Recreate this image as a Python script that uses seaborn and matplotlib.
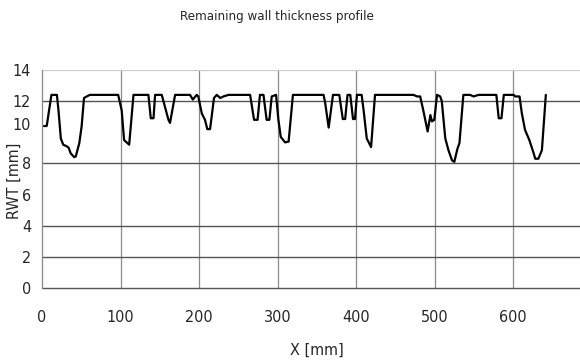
import matplotlib
matplotlib.use("Agg")
import matplotlib.pyplot as plt
import matplotlib.transforms as mtransforms
from matplotlib import font_manager
import seaborn as sns
import pandas as pd

# profile (X in mm, remaining wall thickness in mm)
x_mm = [2.5, 6, 12, 19, 21, 24, 27, 31.5, 34, 36.5, 41, 43, 47.5, 50.5, 53.5, 57, 61,
        97, 101.5, 104.5, 111, 116.5, 135.5, 138.5, 142, 144, 152.5, 161, 163, 169.5,
        188.5, 192, 197, 199, 203.5, 207.5, 210.5, 214, 219, 222.5, 227, 231, 237.5,
        265, 270, 274.5, 277.5, 282, 286, 289.5, 292.5, 298, 301, 304, 309.5, 314, 319.5,
        358.5, 360.5, 365, 370.5, 378.5, 383, 386, 389, 392.5, 396, 398.5, 401, 407,
        409.5, 413.5, 419, 424, 473, 477.5, 481.5, 485.5, 491, 494.5, 496.5, 499.5,
        503, 507, 509, 513.5, 517.5, 522, 525, 529, 531.5, 536.5, 545, 549.5, 556,
        578.5, 581.5, 585, 588, 600.5, 602.5, 608, 611, 615, 620.5, 626, 628, 632,
        636.5, 641.5]
rwt_mm = [10.4, 10.4, 12.4, 12.4, 11.4, 9.6, 9.2, 9.1, 9.0, 8.65, 8.4, 8.45, 9.3, 10.4,
          12.2, 12.3, 12.4,
          12.4, 11.4, 9.5, 9.2, 12.4, 12.4, 10.9, 10.9, 12.4, 12.4, 10.8, 10.6, 12.4,
          12.4, 12.1, 12.4, 12.3, 11.2, 10.8, 10.2, 10.2, 12.2, 12.4, 12.2, 12.3, 12.4,
          12.4, 10.8, 10.8, 12.4, 12.4, 10.8, 10.8, 12.3, 12.4, 10.8, 9.7, 9.35, 9.4, 12.4,
          12.4, 11.9, 10.3, 12.4, 12.4, 10.85, 10.85, 12.4, 12.4, 10.85, 10.85, 12.4, 12.4,
          11.4, 9.6, 9.05, 12.4, 12.4, 12.3, 12.3, 11.4, 10.05, 11.1, 10.7, 10.8,
          12.4, 12.3, 12.0, 9.6, 8.85, 8.2, 8.1, 8.95, 9.3, 12.4, 12.4, 12.3, 12.4,
          12.4, 10.9, 10.9, 12.4, 12.4, 12.3, 12.3, 11.2, 10.15, 9.5, 8.65, 8.3, 8.3,
          8.85, 12.4]

y_ticks = [0, 2, 4, 6, 8, 10, 12, 14]
x_ticks = [0, 100, 200, 300, 400, 500, 600]
grid_levels = [0, 2, 4, 8, 12]

df = pd.DataFrame({"X": x_mm, "RWT": rwt_mm})

sns.set_style("white")

# the original uses a narrow Arial-like face; take a narrow/condensed one if there is one
narrow = None
for f in font_manager.fontManager.ttflist:
    if ("Narrow" in f.name or f.stretch in ("condensed", "semi-condensed")) and f.weight in (400, "normal", "regular"):
        narrow = f.name
        break
plt.rcParams['font.family'] = ([narrow] if narrow else []) + ['Liberation Sans', 'DejaVu Sans']
if narrow and "Narrow" not in narrow:
    plt.rcParams['font.stretch'] = 'condensed'

fig = plt.figure(figsize=(5.8, 3.64), dpi=100)
ax = fig.add_axes([0.0724, 0.2088, 0.9276, 0.599])

# grid lines
for x in x_ticks[1:]:
    ax.axvline(x, color="#8a8a8a", lw=0.9, zorder=0)
for y in grid_levels:
    ax.axhline(y, color="#555555", lw=1.0, zorder=0, clip_on=False)
ax.axhline(14, color="#cccccc", lw=0.9, zorder=0)

sns.lineplot(data=df, x="X", y="RWT", sort=False, color="black", lw=1.6, ax=ax)

ax.set_xlim(0, 685)
ax.set_ylim(0, 14)
ax.set_xticks(x_ticks)
ax.set_yticks(y_ticks)
ax.tick_params(axis="both", length=4, width=0.8, color="#888888",
               labelsize=11.5, pad=4)
ax.tick_params(axis="x", pad=12)

for s in ["top", "right", "bottom"]:
    ax.spines[s].set_visible(False)
ax.spines["left"].set_color("#888888")
ax.spines["left"].set_linewidth(0.9)

# the "10" label sits a bit high in the original
for lab in ax.get_yticklabels():
    if lab.get_text() == "10":
        lab.set_transform(lab.get_transform() + mtransforms.ScaledTranslation(0, 8 / 100, fig.dpi_scale_trans))

ax.set_xlabel("X [mm]", fontsize=11.5)
ax.set_ylabel("RWT [mm]", fontsize=11.5)
ax.xaxis.set_label_coords(0.51, -0.25)
ax.yaxis.set_label_coords(-0.038, 0.49)

fig.text(0.478, 0.955, "Remaining wall thickness profile", ha="center", va="center", fontsize=9.5)

fig.savefig("out.png", dpi=100)
